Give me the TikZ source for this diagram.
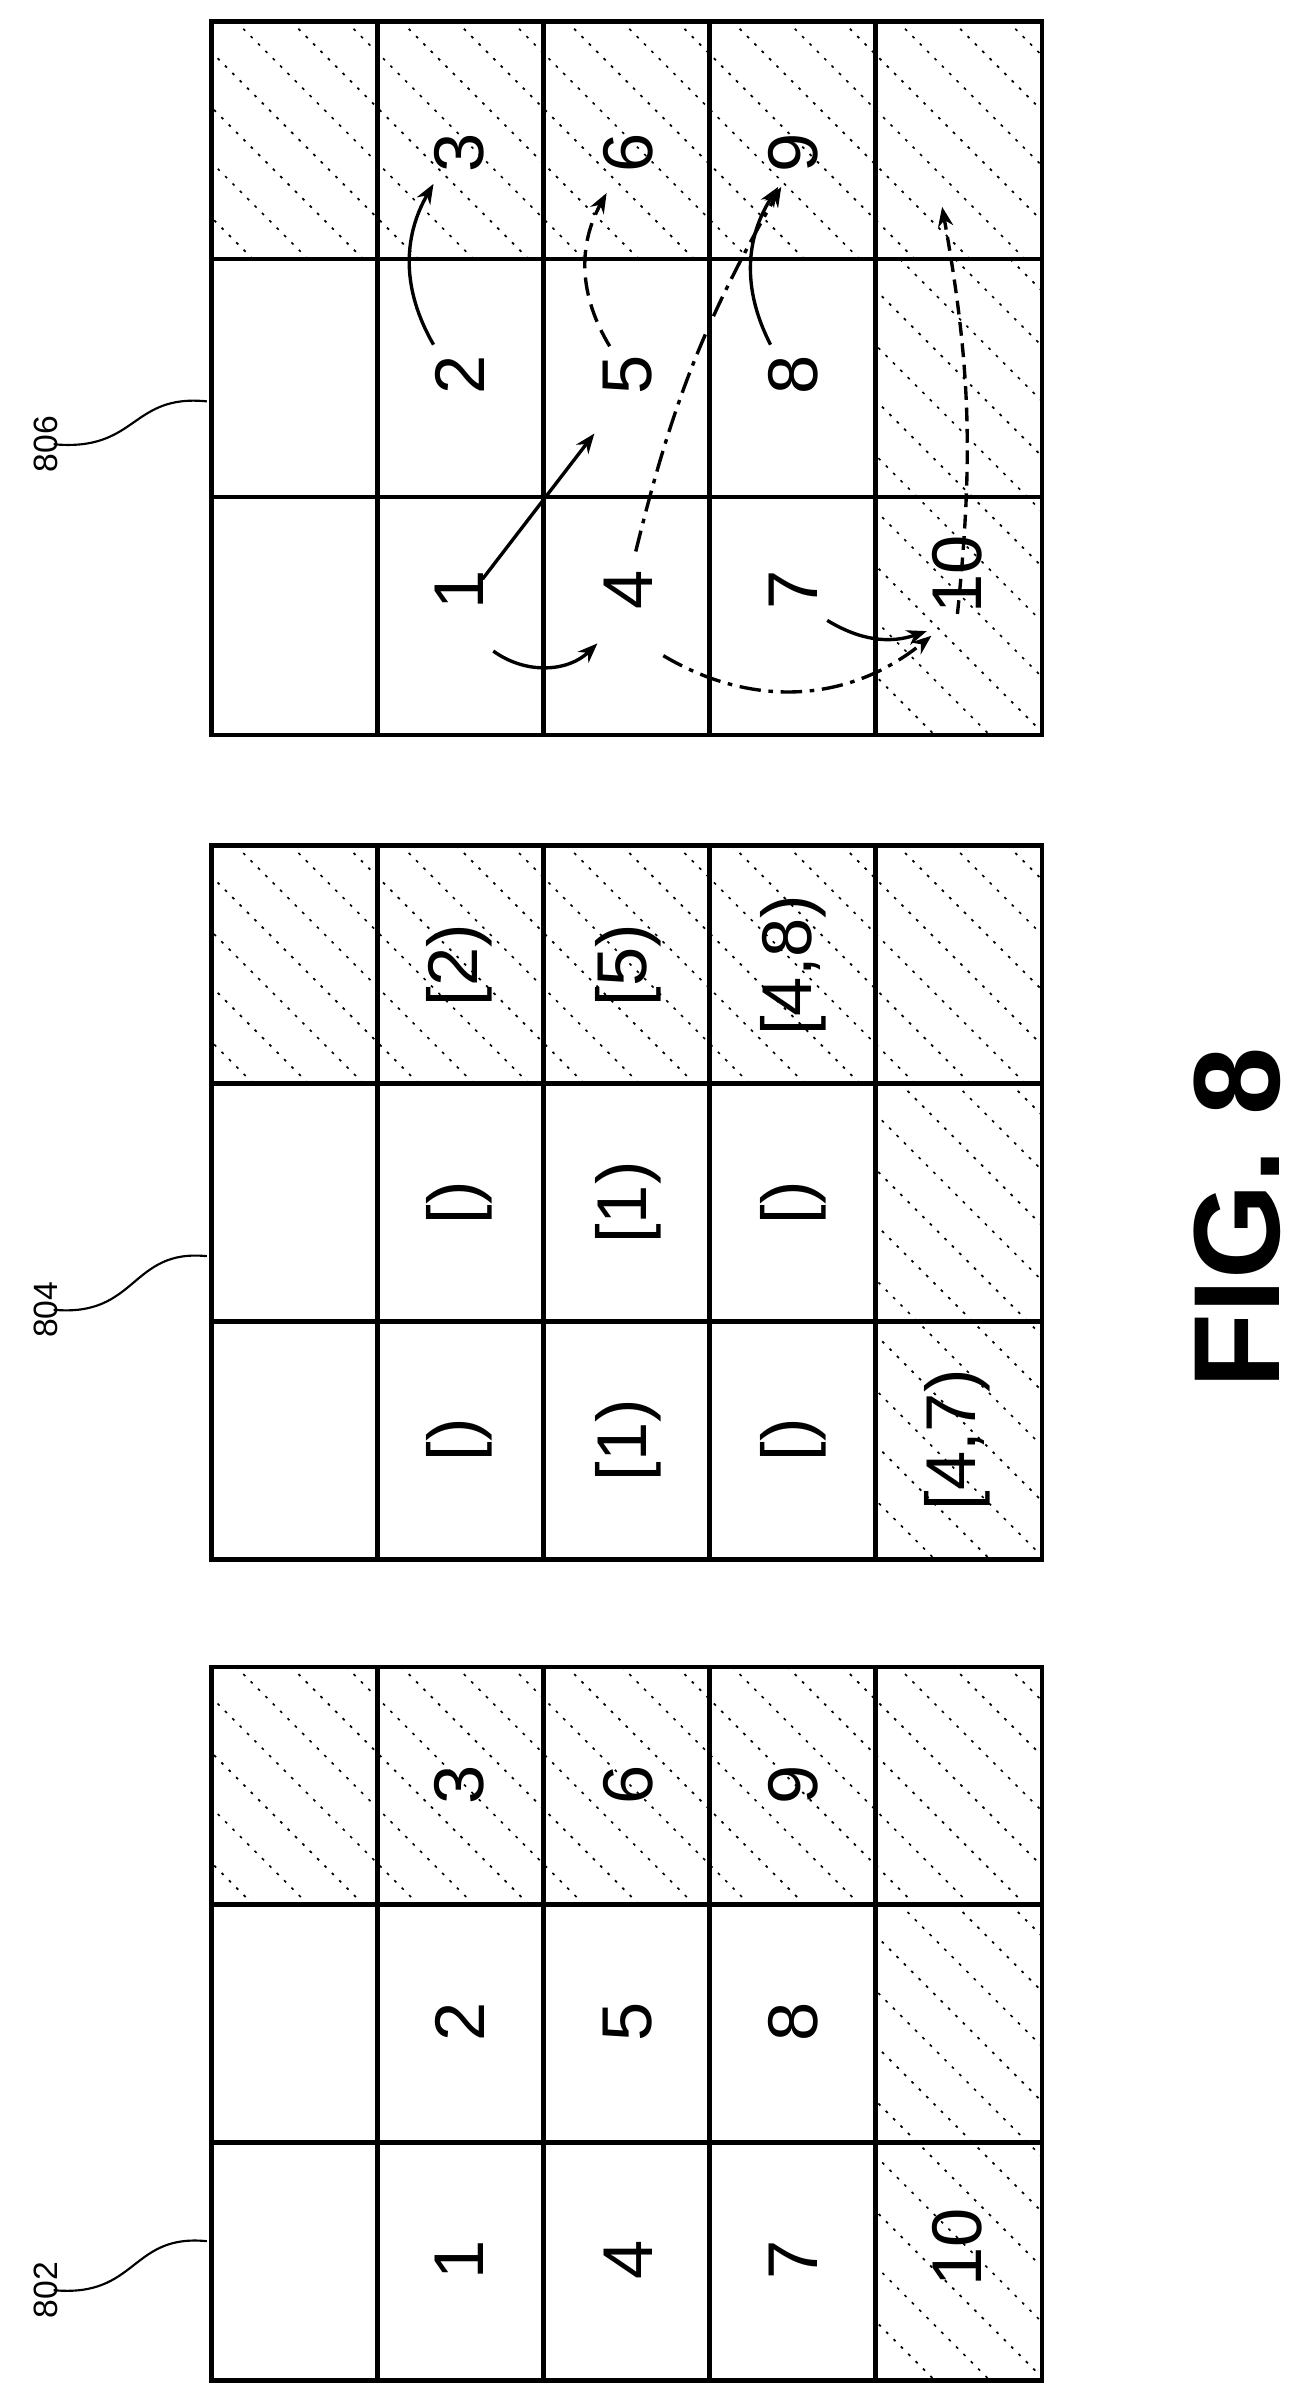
\documentclass[tikz,border=0pt]{standalone}
\usepackage{fontspec}
\setmainfont{Liberation Sans}
\usetikzlibrary{positioning,calc,arrows.meta}

\tikzset{
  cell/.style={line width=2.8pt},
  hatch/.style={line width=1.1pt, dash pattern=on 1.8pt off 5pt},
  num/.style={rotate=90, font=\fontsize{46}{46}\selectfont, inner sep=0pt},
  ref/.style={rotate=90, font=\fontsize{22}{22}\selectfont, inner sep=0pt},
  arr/.style={-{Stealth[length=13pt,width=10pt]}, line width=2.2pt},
}

% hatched box
\newcommand{\hatchbox}[4]{%
  \begin{scope}
    \clip (#1,#2) rectangle (#3,#4);
    \foreach \k in {-560,-524,...,600}
      \draw[hatch] (#1+\k,#2) -- ++(600,600);
  \end{scope}}

% grid of 5 by 3 cells, top at y=#1
\newcommand{\cellgrid}[1]{%
  \hatchbox{138}{#1}{680}{#1+155.3}
  \hatchbox{571.6}{#1+155.3}{680}{#1+466}
  \draw[cell] (138,#1) rectangle (680,#1+466);
  \foreach \i in {1,...,4} \draw[cell] (138+108.4*\i,#1) -- (138+108.4*\i,#1+466);
  \foreach \j in {1,2} \draw[cell] (138,#1+155.3*\j) -- (680,#1+155.3*\j);}

\begin{document}
\begin{tikzpicture}[x=1pt,y=-1pt]
\useasboundingbox (0,0) rectangle (853,1568);

% 802
\cellgrid{1088}
\node[num] (a1) at (300,1475) {1};
\node[num] (a4) at (410,1475) {4};
\node[num] (a7) at (518,1475) {7};
\node[num] (a10) at (625,1467) {10};
\node[num] (a2) at (300,1320) {2};
\node[num] (a5) at (410,1320) {5};
\node[num] (a8) at (518,1320) {8};
\node[num] (a3) at (300,1165) {3};
\node[num] (a6) at (410,1165) {6};
\node[num] (a9) at (518,1165) {9};

% 804
\cellgrid{552}
\node[num] (b1) at (300,940) {[)};
\node[num] (b4) at (410,940) {[1)};
\node[num] (b7) at (518,940) {[)};
\node[num] (b10) at (625,940) {[4,7)};
\node[num] (b2) at (300,785) {[)};
\node[num] (b5) at (410,785) {[1)};
\node[num] (b8) at (518,785) {[)};
\node[num] (b3) at (300,630) {[2)};
\node[num] (b6) at (410,630) {[5)};
\node[num] (b9) at (518,630) {[4,8)};

% 806
\cellgrid{14}
\node[num] (c1) at (300,385) {1};
\node[num] (c4) at (410,385) {4};
\node[num] (c7) at (518,385) {7};
\node[num] (c10) at (625,375) {10};
\node[num] (c2) at (300,245) {2};
\node[num] (c5) at (410,245) {5};
\node[num] (c8) at (518,245) {8};
\node[num] (c3) at (300,100) {3};
\node[num] (c6) at (410,100) {6};
\node[num] (c9) at (518,100) {9};
\coordinate (top) at (615,135);

\draw[arr] ([xshift=-17pt,yshift=20pt]c2.center) to[bend left=30] ([xshift=-17pt,yshift=-20pt]c3.center);
\draw[arr, dashed, dash pattern=on 12pt off 6pt] ([xshift=-12pt,yshift=19pt]c5.center) to[bend left=30] ([xshift=-14pt,yshift=-26pt]c6.center);
\draw[arr] ([xshift=-15pt,yshift=20pt]c8.center) to[bend left=30] ([xshift=-10pt,yshift=-22pt]c9.center);
\draw[arr] ([xshift=15pt,yshift=7pt]c1.center) -- ([xshift=-22pt,yshift=-38pt]c5.center);
\draw[arr] ([xshift=22pt,yshift=-40pt]c1.center) to[bend right=40] ([xshift=-20pt,yshift=-35pt]c4.center);
\draw[arr, dash pattern=on 14pt off 5pt on 3pt off 5pt] ([xshift=5pt,yshift=25pt]c4.center) to[bend left=8] ([xshift=-8pt,yshift=-22pt]c9.center);
\draw[arr, dash pattern=on 14pt off 5pt on 3pt off 5pt] ([xshift=23pt,yshift=-43pt]c4.center) to[bend right=35] ([xshift=-17pt,yshift=-40pt]c10.center);
\draw[arr] ([xshift=22pt,yshift=-20pt]c7.center) to[bend right=25] ([xshift=-20pt,yshift=-37pt]c10.center);
\draw[arr, dashed, dash pattern=on 9pt off 5pt] (c10.west) to[bend right=8] (top);

% reference labels
\node[ref] (r802) at (30,1495) {802};
\node[ref] (r804) at (30,855) {804};
\node[ref] (r806) at (30,290) {806};
\coordinate (l802) at (135,1463);
\coordinate (l804) at (135,820);
\coordinate (l806) at (135,262);
\foreach \r/\l in {r802/l802, r804/l804, r806/l806}
  \draw[line width=1.4pt] ([xshift=-3pt]\r.south) .. controls ++(55,5) and ++(-50,-5) .. (\l);

\node[rotate=90, font=\bfseries\fontsize{80}{80}\selectfont, inner sep=0pt] (fig) at (808,795) {FIG. 8};
\end{tikzpicture}
\end{document}
